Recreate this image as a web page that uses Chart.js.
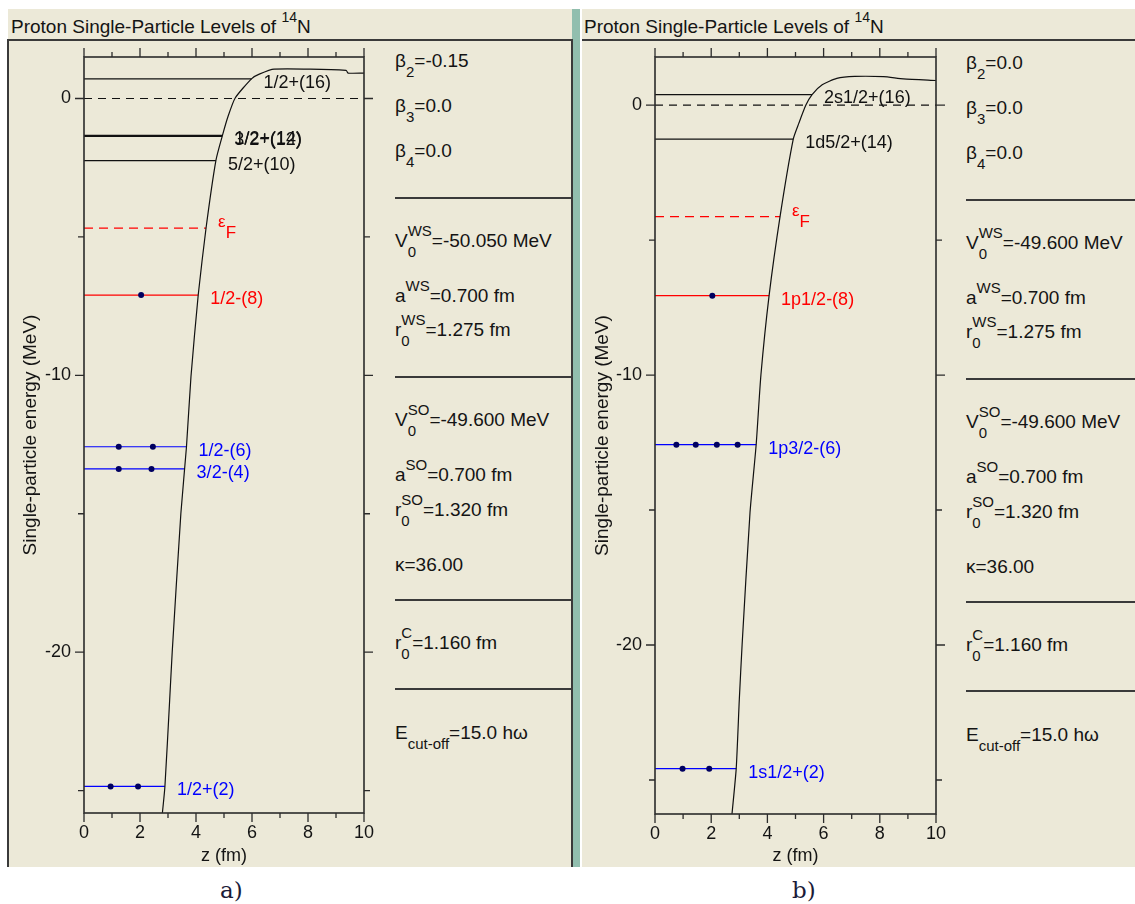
<!DOCTYPE html>
<html>
<head>
<meta charset="utf-8">
<title>Proton single-particle levels of 14N</title>
<script src="https://cdn.jsdelivr.net/npm/chart.js@4.4.1/dist/chart.umd.min.js"></script>
<style>
  body { margin: 0; background: #fff; }
  #page { position: relative; width: 1135px; height: 904px; overflow: hidden;
          font-family: "Liberation Sans", Arial, sans-serif; color: #141414; }
  .bg { position: absolute; top: 9px; height: 858px; background: #ECE9D8; }
  .rule { position: absolute; height: 2px; background: #3a3a3a; }
  .vrule { position: absolute; width: 2px; background: #3a3a3a; }
  .row { position: absolute; white-space: nowrap; }
  .st { display: inline-block; position: relative; }
  .st .up { position: relative; top: -11px; font-size: 15px; }
  .st .dn { position: absolute; left: 0; top: 11px; font-size: 15px; line-height: 20px; }
  .sb { position: relative; top: 10px; font-size: 15px; }
  .sp { position: relative; top: -11px; font-size: 15px; }
  canvas { position: absolute; }
</style>
</head>
<body>
<div id="page">
  <div class="bg" style="left:8px;width:564px"></div>
  <div style="position:absolute;left:572px;top:9px;width:8px;height:858px;background:#91BEAE"></div>
  <div class="bg" style="left:582px;width:553px"></div>
  <div class="rule" style="left:7px;top:39px;width:566px"></div>
  <div class="vrule" style="left:7px;top:39px;height:828px"></div>
  <div class="vrule" style="left:571px;top:39px;height:828px"></div>
  <div class="rule" style="left:582px;top:39px;width:553px"></div>
  <canvas id="chartA" width="380" height="826" style="left:8px;top:41px"></canvas>
  <canvas id="chartB" width="380" height="826" style="left:582px;top:41px"></canvas>
  <div id="text"></div>
</div>
<script>
// ---- data ----
var zRange = [0, 10];
var zTicks = [0, 1, 2, 3, 4, 5, 6, 7, 8, 9, 10];
var zTickLabels = [0, 2, 4, 6, 8, 10];
var eTicks = [-25, -20, -15, -10, -5, 0];
var eTickLabels = [-20, -10, 0];

// a) beta2 = -0.15
var eRangeA = [-25.81, 1.5];
var zCurveA = [2.80, 2.89, 3.06, 3.15, 3.46, 3.66, 3.82, 4.08, 4.36, 4.71, 4.94, 5.14, 5.40, 5.99, 6.26, 6.79, 9.36, 9.43, 10.0];
var eCurveA = [-25.81, -24.85, -21.72, -20.0, -14.98, -12.58, -10.05, -7.09, -4.67, -2.24, -1.35, -0.66, 0.02, 0.72, 0.88, 1.06, 1.02, 0.92, 0.92];
var levelNamesA = ['1/2+(16)', '1/2+(14)', '3/2+(12)', '5/2+(10)', '1/2-(8)', '1/2-(6)', '3/2-(4)', '1/2+(2)'];
var levelEnergyA = [0.71, -1.33, -1.37, -2.24, -7.10, -12.58, -13.38, -24.85];
var levelStateA = ['empty', 'empty', 'empty', 'empty', 'partial', 'full', 'full', 'full'];
var dotsA = [[], [], [], [], [2.04], [1.24, 2.46], [1.24, 2.41], [0.95, 1.93]];
var fermiA = -4.68;

// b) beta2 = 0.0
var eRangeB = [-26.26, 1.78];
var zCurveB = [2.74, 2.89, 3.00, 3.10, 3.38, 3.60, 3.77, 4.06, 4.45, 4.92, 5.12, 5.37, 5.59, 5.95, 6.47, 7.11, 8.13, 8.84, 10.0];
var eCurveB = [-26.26, -24.58, -22.03, -19.99, -15.11, -12.58, -9.99, -7.06, -4.13, -1.26, -0.67, 0.0, 0.39, 0.75, 0.99, 1.06, 1.05, 0.97, 0.91];
var levelNamesB = ['2s1/2+(16)', '1d5/2+(14)', '1p1/2-(8)', '1p3/2-(6)', '1s1/2+(2)'];
var levelEnergyB = [0.39, -1.26, -7.06, -12.58, -24.58];
var levelStateB = ['empty', 'empty', 'partial', 'full', 'full'];
var dotsB = [[], [], [2.04], [0.76, 1.45, 2.20, 2.94], [0.98, 1.93]];
var fermiB = -4.13;

var paramsA = ['β_2=-0.15', 'β_3=0.0', 'β_4=0.0', 'V_0^WS=-50.050 MeV', 'a^WS=0.700 fm', 'r_0^WS=1.275 fm',
               'V_0^SO=-49.600 MeV', 'a^SO=0.700 fm', 'r_0^SO=1.320 fm', 'κ=36.00', 'r_0^C=1.160 fm', 'E_cut-off=15.0 hω'];
var paramsB = ['β_2=0.0', 'β_3=0.0', 'β_4=0.0', 'V_0^WS=-49.600 MeV', 'a^WS=0.700 fm', 'r_0^WS=1.275 fm',
               'V_0^SO=-49.600 MeV', 'a^SO=0.700 fm', 'r_0^SO=1.320 fm', 'κ=36.00', 'r_0^C=1.160 fm', 'E_cut-off=15.0 hω'];

// ---- layout ----
var FONT = '"Liberation Sans", Arial, sans-serif';
var stateColor = { empty: '#111111', partial: '#ff0000', full: '#0000ff' };
var paramBase = [68, 113, 158, 248, 303, 337, 427, 482, 517, 572, 650, 740];
var paramRules = [197, 376, 599, 688];

var textBox = document.getElementById('text');

function addRow(html, x, baseline, size, lh, extra) {
  var d = document.createElement('div');
  d.className = 'row';
  d.style.left = x + 'px';
  d.style.fontSize = size + 'px';
  d.style.lineHeight = lh + 'px';
  d.style.top = (baseline - ((lh - 1.117 * size) / 2 + 0.905 * size)) + 'px';
  if (extra) d.style.cssText += extra;
  d.innerHTML = html;
  textBox.appendChild(d);
}

// "V_0^WS=..." -> stacked sub/sup markup
function markup(s) {
  var m = s.match(/^([^_^=]+)(?:_([^\^=]+))?(?:\^([^=]+))?(=.*)$/);
  var h = m[1];
  if (m[2] && m[3]) h += '<span class="st"><span class="up">' + m[3] + '</span><span class="dn">' + m[2] + '</span></span>';
  else if (m[2]) h += '<span class="sb">' + m[2] + '</span>';
  else if (m[3]) h += '<span class="sp">' + m[3] + '</span>';
  return h + m[4];
}

function addParams(list, x, dy, ruleLeft, ruleWidth) {
  list.forEach(function (s, i) { addRow(markup(s), x, paramBase[i] + dy, 19, 20); });
  paramRules.forEach(function (y) {
    var r = document.createElement('div');
    r.className = 'rule';
    r.style.left = ruleLeft + 'px'; r.style.width = ruleWidth + 'px'; r.style.top = (y + dy) + 'px';
    textBox.appendChild(r);
  });
}

var titleHtml = 'Proton Single-Particle Levels of <span style="position:relative;top:-11px;font-size:14px">14</span>N';
addRow(titleHtml, 11, 34, 19, 22);
addRow(titleHtml, 584, 34, 19, 22);
addParams(paramsA, 395, 0, 395, 177);
addParams(paramsB, 966, 1.5, 966, 169);
addRow('a)', 220, 898, 23, 26, 'font-family:"DejaVu Serif",serif;color:#1b1b38');
addRow('b)', 792, 898, 23, 26, 'font-family:"DejaVu Serif",serif;color:#1b1b38');

// z where the potential curve reaches energy e
function zAt(zs, es, e) {
  for (var i = 0; i < zs.length - 1; i++) {
    if ((es[i] - e) * (es[i + 1] - e) <= 0 && es[i] !== es[i + 1]) {
      return zs[i] + (e - es[i]) * (zs[i + 1] - zs[i]) / (es[i + 1] - es[i]);
    }
  }
  return zs[zs.length - 1];
}

// frame, outward ticks, level labels
var levelPlugin = {
  id: 'levelPlugin',
  afterDatasetsDraw: function (chart) {
    var p = chart.options.plugins.levelPlugin;
    var c = chart.ctx, a = chart.chartArea;
    var sx = chart.scales.x, sy = chart.scales.y;
    c.save();
    c.strokeStyle = '#2b2b2b';
    c.lineWidth = 1.6;
    c.strokeRect(a.left, a.top, a.right - a.left, a.bottom - a.top);
    c.lineWidth = 1.3;
    c.beginPath();
    zTicks.forEach(function (v) {
      var px = sx.getPixelForValue(v), len = zTickLabels.indexOf(v) >= 0 ? 9 : 5;
      c.moveTo(px, a.bottom); c.lineTo(px, a.bottom + len);
      c.moveTo(px, a.top); c.lineTo(px, a.top - len);
    });
    eTicks.forEach(function (v) {
      var py = sy.getPixelForValue(v), len = eTickLabels.indexOf(v) >= 0 ? 9 : 6;
      c.moveTo(a.left, py); c.lineTo(a.left - len, py);
      c.moveTo(a.right, py); c.lineTo(a.right + len, py);
    });
    c.stroke();

    c.font = '18px ' + FONT;
    c.textBaseline = 'middle';
    c.textAlign = 'left';
    p.names.forEach(function (name, i) {
      var e = p.energy[i];
      var x = sx.getPixelForValue(zAt(p.zCurve, p.eCurve, e)) + 12;
      c.fillStyle = stateColor[p.state[i]];
      c.fillText(name, x, sy.getPixelForValue(e) + 4);
    });
    // Fermi level label
    var fx = sx.getPixelForValue(zAt(p.zCurve, p.eCurve, p.fermi)) + 12;
    var fy = sy.getPixelForValue(p.fermi);
    c.fillStyle = '#ff0000';
    c.textBaseline = 'alphabetic';
    c.font = '17px ' + FONT;
    c.fillText('ε', fx, fy - 1);
    c.fillText('F', fx + c.measureText('ε').width, fy + 10);
    c.restore();
  }
};

function makeChart(canvasId, p) {
  var cross = function (e) { return zAt(p.zCurve, p.eCurve, e); };
  var dots = [];
  p.dots.forEach(function (list, i) {
    list.forEach(function (z) { dots.push({ x: z, y: p.energy[i] }); });
  });
  var datasets = [{
    data: dots, pointRadius: 3, pointBackgroundColor: '#000060', pointBorderWidth: 0, showLine: false
  }, {
    data: p.zCurve.map(function (z, i) { return { x: z, y: p.eCurve[i] }; }),
    borderColor: '#111', borderWidth: 1.2, pointRadius: 0, showLine: true, tension: 0.2
  }, {
    data: [{ x: zRange[0], y: 0 }, { x: zRange[1], y: 0 }],
    borderColor: '#111', borderWidth: 1.2, borderDash: [8, 6], pointRadius: 0, showLine: true
  }, {
    data: [{ x: zRange[0], y: p.fermi }, { x: cross(p.fermi), y: p.fermi }],
    borderColor: '#ff0000', borderWidth: 1.2, borderDash: [9, 6], pointRadius: 0, showLine: true
  }];
  p.energy.forEach(function (e, i) {
    datasets.push({
      data: [{ x: zRange[0], y: e }, { x: cross(e), y: e }],
      borderColor: stateColor[p.state[i]], borderWidth: 1.2, pointRadius: 0, showLine: true
    });
  });

  var plain = { display: false, drawTicks: false };
  var fitH = function (h) { return function (s) { s.height = h; s.paddingLeft = 0; s.paddingRight = 0; }; };
  var fitV = function (w) { return function (s) { s.width = w; s.paddingTop = 0; s.paddingBottom = 0; }; };
  return new Chart(document.getElementById(canvasId), {
    type: 'scatter',
    data: { datasets: datasets },
    options: {
      responsive: false,
      animation: false,
      layout: { padding: 0 },
      plugins: { legend: { display: false }, tooltip: { enabled: false }, levelPlugin: p },
      scales: {
        x: {
          type: 'linear', position: 'bottom', min: zRange[0], max: zRange[1],
          afterBuildTicks: function (s) { s.ticks = zTicks.map(function (v) { return { value: v }; }); },
          afterFit: fitH(p.box.bottom),
          grid: plain, border: { display: false },
          ticks: {
            autoSkip: false, maxRotation: 0, padding: 9, color: '#141414', font: { family: FONT, size: 18 },
            callback: function (v) { return zTickLabels.indexOf(v) >= 0 ? String(v) : ''; }
          },
          title: { display: true, text: 'z (fm)', color: '#141414', font: { family: FONT, size: 18 }, padding: 0 }
        },
        x2: {
          type: 'linear', position: 'top', min: zRange[0], max: zRange[1],
          afterFit: fitH(p.box.top),
          grid: plain, border: { display: false }, ticks: { display: false }
        },
        y: {
          type: 'linear', position: 'left', min: p.eRange[0], max: p.eRange[1],
          afterBuildTicks: function (s) { s.ticks = eTicks.map(function (v) { return { value: v }; }); },
          afterFit: fitV(p.box.left),
          grid: plain, border: { display: false },
          ticks: {
            autoSkip: false, padding: 13, color: '#141414', font: { family: FONT, size: 18 },
            callback: function (v) { return eTickLabels.indexOf(v) >= 0 ? String(v) : ''; }
          },
          title: {
            display: true, text: 'Single-particle energy (MeV)', color: '#141414',
            font: { family: FONT, size: 19 }, padding: { top: p.box.titleX }
          }
        },
        y2: {
          type: 'linear', position: 'right', min: p.eRange[0], max: p.eRange[1],
          afterFit: fitV(p.box.right),
          grid: plain, border: { display: false }, ticks: { display: false }
        }
      }
    },
    plugins: [levelPlugin]
  });
}

makeChart('chartA', {
  zCurve: zCurveA, eCurve: eCurveA, names: levelNamesA, energy: levelEnergyA, state: levelStateA,
  dots: dotsA, fermi: fermiA, eRange: eRangeA,
  box: { left: 76, right: 24, top: 16, bottom: 54, titleX: 11 }
});
makeChart('chartB', {
  zCurve: zCurveB, eCurve: eCurveB, names: levelNamesB, energy: levelEnergyB, state: levelStateB,
  dots: dotsB, fermi: fermiB, eRange: eRangeB,
  box: { left: 73, right: 26, top: 16, bottom: 53, titleX: 9 }
});
</script>
</body>
</html>
